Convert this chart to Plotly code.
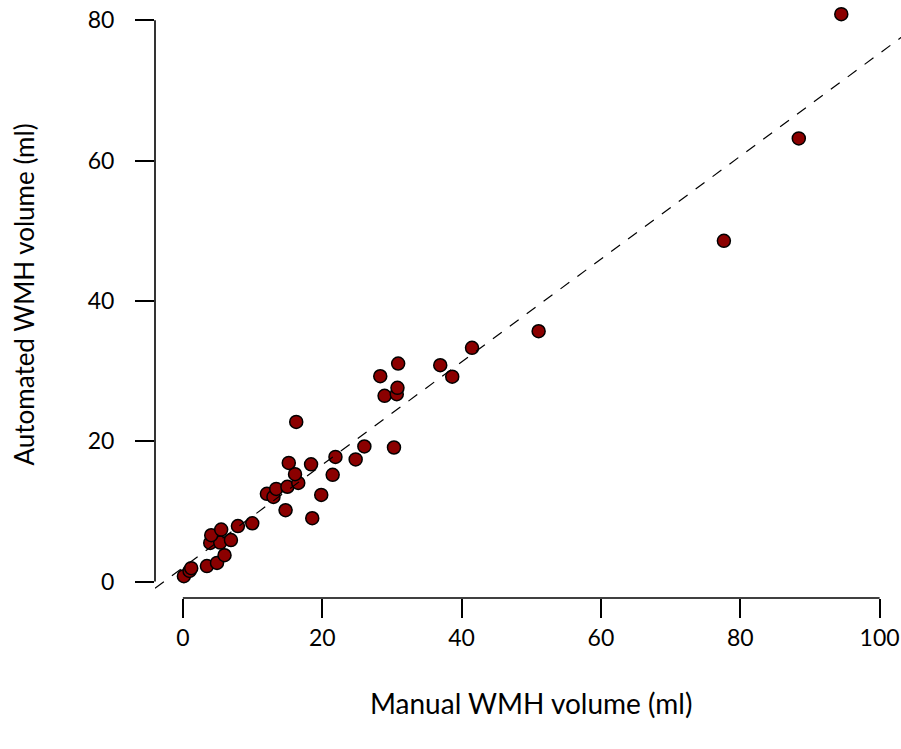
import plotly.graph_objects as go

# WMH volumes (ml): manual segmentation vs automated segmentation
manual_ml = [0.15, 0.96, 1.2, 3.45, 4.9, 5.98, 3.93, 5.36, 6.9, 4.07, 5.5, 7.9, 9.96,
             14.74, 18.57, 12.06, 13.0, 13.4, 15.0, 16.56, 16.1, 15.2, 18.4, 19.86,
             21.5, 21.9, 16.27, 24.8, 26.05, 30.3, 28.33, 28.95, 30.7, 30.8, 30.9,
             36.94, 38.66, 41.5, 51.06, 77.65, 88.4, 94.5]
automated_ml = [0.76, 1.5, 1.9, 2.2, 2.65, 3.75, 5.5, 5.55, 5.9, 6.6, 7.4, 7.9, 8.3,
                10.16, 9.02, 12.5, 12.06, 13.2, 13.5, 14.05, 15.3, 16.9, 16.7, 12.34,
                15.2, 17.76, 22.75, 17.4, 19.25, 19.1, 29.26, 26.46, 26.7, 27.6, 31.07,
                30.83, 29.2, 33.3, 35.67, 48.55, 63.15, 80.86]

# fitted line: automated = intercept + slope * manual
fit_intercept = 1.98
fit_slope = 0.733

x_ticks = [0, 20, 40, 60, 80, 100]
y_ticks = [0, 20, 40, 60, 80]

FONT = "Lato"

fig = go.Figure()

fig.add_trace(go.Scatter(
    x=manual_ml, y=automated_ml, mode="markers",
    marker=dict(size=13, color="#8b0000", line=dict(color="black", width=1.5)),
    hoverinfo="x+y", showlegend=False,
))

line_x = [-4, 104]
line_y = [fit_intercept + fit_slope * v for v in line_x]
fig.add_trace(go.Scatter(
    x=line_x, y=line_y, mode="lines",
    line=dict(color="black", width=1.2, dash="11px,10px"),
    hoverinfo="skip", showlegend=False,
))

# axis lines spanning first to last tick only
fig.add_shape(type="line", xref="x", yref="paper", x0=x_ticks[0], x1=x_ticks[-1],
              y0=0, y1=0, line=dict(color="black", width=1.6))
fig.add_shape(type="line", xref="paper", yref="y", x0=0, x1=0,
              y0=y_ticks[0], y1=y_ticks[-1], line=dict(color="black", width=1.6))

fig.add_annotation(text="Manual WMH volume (ml)", xref="paper", yref="paper",
                   x=0.5045, y=-0.176, xanchor="center", yanchor="middle",
                   showarrow=False, font=dict(family=FONT, size=28, color="black"))
fig.add_annotation(text="Automated WMH volume (ml)", xref="paper", yref="paper",
                   x=-0.176, y=0.507, xanchor="center", yanchor="middle", textangle=-90,
                   showarrow=False, font=dict(family=FONT, size=26, color="black"))

fig.update_xaxes(range=[-4, 103.07], tickvals=x_ticks, ticks="outside", ticklen=19,
                 tickwidth=1.6, tickcolor="black", showline=False, zeroline=False,
                 showgrid=False, ticklabelstandoff=0,
                 tickfont=dict(family=FONT, size=23, color="black"))
fig.update_yaxes(range=[-2.35, 82.88], tickvals=y_ticks, ticks="outside", ticklen=19,
                 tickwidth=1.6, tickcolor="black", showline=False, zeroline=False,
                 showgrid=False, ticklabelstandoff=16,
                 tickfont=dict(family=FONT, size=23, color="black"))

fig.update_layout(width=901, height=749, margin=dict(l=155, r=0, t=0, b=151),
                  plot_bgcolor="white", paper_bgcolor="white")

fig.write_html("out.html")
